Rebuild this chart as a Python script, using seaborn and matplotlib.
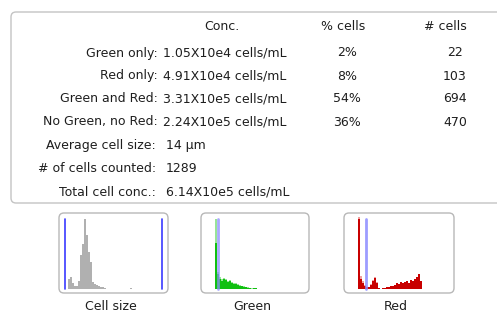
import numpy as np
import matplotlib
matplotlib.use("Agg")
import matplotlib.pyplot as plt
from matplotlib.patches import FancyBboxPatch
import seaborn as sns

# Summary table
row_labels = ["Green only:", "Red only:", "Green and Red:", "No Green, no Red:"]
conc = ["1.05X10e4 cells/mL", "4.91X10e4 cells/mL", "3.31X10e5 cells/mL", "2.24X10e5 cells/mL"]
pct_cells = ["2%", "8%", "54%", "36%"]
n_cells = [22, 103, 694, 470]
summary_labels = ["Average cell size:", "# of cells counted:", "Total cell conc.:"]
summary_values = ["14 µm", "1289", "6.14X10e5 cells/mL"]

# Mini histograms (bin heights per channel)
size_counts = [10, 12, 6, 3, 3, 8, 34, 45, 70, 54, 37, 27, 7, 5, 4, 3, 2, 2, 1,
               0, 0, 0, 0, 0, 0, 0, 0, 0, 0, 0, 0, 1]
size_gates = [-2, 46.5]
green_total = [70, 17, 12, 10, 11, 10, 8, 9, 7, 6, 6, 5, 4, 3, 3, 2, 2, 1, 1, 1, 1]
green_counts = [46, 15, 10, 8, 10, 9, 7, 8, 6, 5, 5, 4, 3, 3, 2, 2, 1, 1, 0, 1, 1]
green_gate = 1
red_total = [72, 13, 8, 4, 2, 2, 5, 9, 12, 7, 1, 0, 1, 1, 2, 2, 3, 3, 4, 6, 5, 7,
             6, 7, 8, 6, 9, 8, 10, 12, 15, 8]
red_counts = [70, 10, 6, 3, 2, 2, 4, 8, 11, 6, 1, 0, 1, 1, 2, 2, 3, 3, 4, 6, 5, 7,
              6, 7, 8, 6, 9, 8, 10, 12, 15, 8]
red_gate = 3.25
panel_titles = ["Cell size", "Green", "Red"]

sns.set_style("white")
plt.rcParams["font.family"] = ["DejaVu Sans"]

W, H = 497, 314
fig = plt.figure(figsize=(W / 100, H / 100), dpi=100)
bg = fig.add_axes([0, 0, 1, 1])
bg.set_xlim(0, W)
bg.set_ylim(H, 0)
bg.axis("off")

txt = "#1e1e1e"
fs = 9


def rbox(x0, y0, x1, y1, ec):
    bg.add_patch(FancyBboxPatch((x0, y0), x1 - x0, y1 - y0,
                                boxstyle="round,pad=0,rounding_size=5",
                                fc="white", ec=ec, lw=1))


# table
rbox(11, 12, 510, 203, "#c4c4c4")
bg.text(222, 27, "Conc.", ha="center", va="center", fontsize=fs, color=txt)
bg.text(343, 27, "% cells", ha="center", va="center", fontsize=fs, color=txt)
bg.text(445, 27, "# cells", ha="center", va="center", fontsize=fs, color=txt)
row_y = [53, 76, 99, 122]
for y, lab, c, p, n in zip(row_y, row_labels, conc, pct_cells, n_cells):
    bg.text(158, y, lab, ha="right", va="center", fontsize=fs, color=txt)
    bg.text(163, y, c, ha="left", va="center", fontsize=fs, color=txt)
    bg.text(347, y, p, ha="center", va="center", fontsize=fs, color=txt)
    bg.text(455, y, str(n), ha="center", va="center", fontsize=fs, color=txt)
sum_y = [146, 169, 192]
for y, lab, v in zip(sum_y, summary_labels, summary_values):
    bg.text(156, y, lab, ha="right", va="center", fontsize=fs, color=txt)
    bg.text(166, y, v, ha="left", va="center", fontsize=fs, color=txt)


# histogram panels
def panel(x0, x1, first_px, title, title_x):
    y0, y1 = 213, 293
    rbox(x0, y0, x1, y1, "#b8b8b8")
    ax = fig.add_axes([x0 / W, 1 - y1 / H, (x1 - x0) / W, (y1 - y0) / H])
    ax.set_xlim((x0 - first_px) / 2 - 0.5, (x1 - first_px) / 2 - 0.5)
    ax.axis("off")
    ax.patch.set_alpha(0)
    bg.text(title_x, 306, title, ha="center", va="center", fontsize=fs, color=txt)
    return ax


ax1 = panel(59, 168, 68, panel_titles[0], 111)
sns.histplot(x=np.arange(len(size_counts)), weights=size_counts, discrete=True,
             shrink=0.75, color="#b0b0b0", alpha=1, linewidth=0, ax=ax1)
for g in size_gates:
    ax1.axvline(g, ymin=0.05, ymax=0.925, color="#3a3aff", lw=1.2)

ax2 = panel(201, 309, 215, panel_titles[1], 252)
sns.histplot(x=np.arange(len(green_total)), weights=green_total, discrete=True,
             color="#98e498", alpha=1, linewidth=0, ax=ax2)
sns.histplot(x=np.arange(len(green_counts)), weights=green_counts, discrete=True,
             color="#10c010", alpha=1, linewidth=0, ax=ax2)
ax2.axvline(green_gate, ymin=0.05, ymax=0.925, color="#8c8cff", lw=2, alpha=0.75)

ax3 = panel(344, 454, 358, panel_titles[2], 396)
sns.histplot(x=np.arange(len(red_total)), weights=red_total, discrete=True,
             color="#f0a0a0", alpha=1, linewidth=0, ax=ax3)
sns.histplot(x=np.arange(len(red_counts)), weights=red_counts, discrete=True,
             color="#c80000", alpha=1, linewidth=0, ax=ax3)
ax3.axvline(red_gate, ymin=0.05, ymax=0.925, color="#8c8cff", lw=2, alpha=0.85)

for a in (ax1, ax2, ax3):
    a.set_ylim(-4, 76)

fig.savefig("out.png", dpi=100)
